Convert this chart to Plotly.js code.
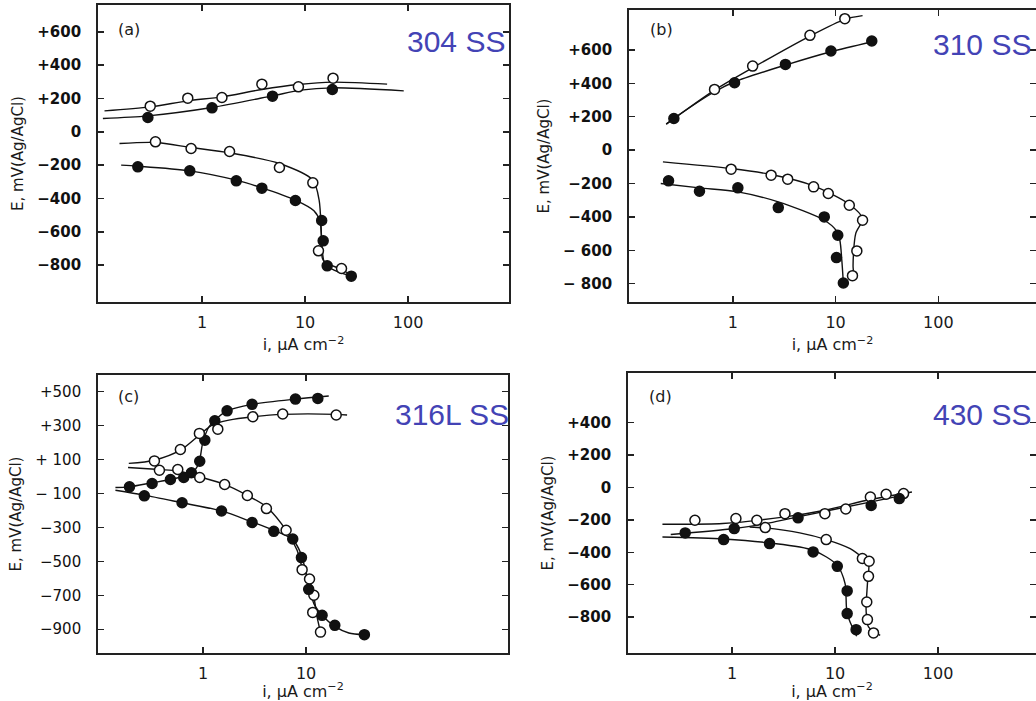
<!DOCTYPE html>
<html>
<head>
<meta charset="utf-8">
<script src="https://cdn.plot.ly/plotly-3.0.1.min.js"></script>
<style>html,body{margin:0;padding:0;background:#fff;}#chart{width:1036px;height:701px;}</style>
</head>
<body>
<div id="chart"></div>
<script>
// ---------- DATA (current density i in µA/cm², potential E in mV vs Ag/AgCl) ----------
// Panel (a) 304 SS
const aOpenAnodicI = [0.314, 0.727, 1.56, 3.81, 8.62, 18.7];
const aOpenAnodicE = [154, 202, 206, 286, 270, 322];
const aOpenAnodicCurveI = [0.113, 0.314, 0.727, 1.56, 3.81, 8.62, 18.7, 62.6];
const aOpenAnodicCurveE = [126, 150, 186, 210, 254, 284, 298, 286];
const aFilledAnodicI = [0.298, 1.25, 4.83, 18.4];
const aFilledAnodicE = [86, 144, 214, 254];
const aFilledAnodicCurveI = [0.109, 0.298, 1.25, 4.83, 9.08, 18.4, 90.8];
const aFilledAnodicCurveE = [80, 96, 146, 216, 250, 264, 246];
const aOpenCathodicI = [0.353, 0.783, 1.85, 5.64, 11.9, 13.5, 22.6];
const aOpenCathodicE = [-60, -100, -118, -214, -306, -714, -820];
const aOpenCathodicCurveI = [0.158, 0.353, 0.783, 1.85, 5.64, 11.9, 13.7, 14.4, 15.0, 22.6, 29.8];
const aOpenCathodicCurveE = [-70, -64, -94, -126, -190, -290, -410, -610, -770, -826, -870];
const aFilledCathodicI = [0.238, 0.760, 2.15, 3.81, 8.06, 14.5, 15.0, 16.4, 28.1];
const aFilledCathodicE = [-210, -234, -294, -338, -412, -532, -654, -804, -866];
const aFilledCathodicCurveI = [0.164, 0.238, 0.760, 2.15, 3.81, 8.06, 12.2, 14.0, 14.5, 15.5, 19.1, 31.0];
const aFilledCathodicCurveE = [-200, -206, -234, -290, -336, -410, -474, -540, -650, -790, -830, -874];

// Panel (b) 310 SS
const bOpenAnodicI = [0.664, 1.56, 5.63, 12.3];
const bOpenAnodicE = [364, 504, 688, 788];
const bOpenAnodicCurveI = [0.225, 0.664, 1.56, 5.63, 12.3, 18.3];
const bOpenAnodicCurveE = [156, 360, 494, 684, 784, 806];
const bFilledAnodicI = [0.267, 1.04, 3.25, 9.01, 22.5];
const bFilledAnodicE = [190, 404, 514, 594, 654];
const bFilledAnodicCurveI = [0.225, 0.267, 0.664, 1.04, 3.25, 9.01, 22.5];
const bFilledAnodicCurveE = [156, 190, 350, 410, 510, 590, 648];
const bOpenCathodicI = [0.963, 2.36, 3.42, 6.11, 8.49, 13.6, 18.3, 16.1, 14.6];
const bOpenCathodicE = [-114, -150, -174, -220, -260, -330, -420, -604, -752];
const bOpenCathodicCurveI = [0.209, 0.963, 2.36, 6.11, 13.6, 18.3, 15.7, 14.8, 15.2];
const bOpenCathodicCurveE = [-70, -110, -146, -214, -324, -410, -500, -700, -760];
const bFilledCathodicI = [0.237, 0.474, 1.12, 2.77, 7.76, 10.5, 10.2, 11.9];
const bFilledCathodicE = [-184, -246, -226, -344, -400, -510, -644, -796];
const bFilledCathodicCurveI = [0.199, 0.474, 1.12, 2.77, 7.76, 10.1, 11.0, 11.5, 11.9];
const bFilledCathodicCurveE = [-200, -226, -250, -310, -420, -480, -540, -660, -796];

// Panel (c) 316L SS
const cFilledAnodicI = [0.193, 0.320, 0.482, 0.649, 0.770, 0.928, 1.04, 1.30, 1.71, 2.99, 7.88, 13.0];
const cFilledAnodicE = [-61, -41, -18, -6, 22, 90, 214, 328, 387, 425, 456, 460];
const cFilledAnodicCurveI = [0.141, 0.193, 0.320, 0.482, 0.770, 0.908, 0.99, 1.14, 1.30, 1.71, 2.99, 7.88, 16.6];
const cFilledAnodicCurveE = [-65, -61, -37, -18, 18, 77, 195, 293, 332, 387, 425, 456, 474];
const cOpenAnodicI = [0.337, 0.602, 0.921, 1.39, 3.04, 5.93, 19.6];
const cOpenAnodicE = [92, 159, 254, 279, 352, 368, 362];
const cOpenAnodicCurveI = [0.190, 0.337, 0.602, 0.921, 1.22, 1.78, 3.04, 5.93, 19.6, 25.0];
const cOpenAnodicCurveE = [77, 96, 155, 244, 303, 332, 352, 366, 366, 362];
const cOpenCathodicI = [0.377, 0.568, 0.928, 1.62, 2.69, 4.12, 6.40, 9.15, 10.8, 11.9, 11.6, 13.8];
const cOpenCathodicE = [37, 41, -6, -47, -112, -189, -317, -549, -604, -700, -801, -917];
const cOpenCathodicCurveI = [0.187, 0.377, 0.568, 0.928, 1.62, 2.69, 4.12, 6.40, 8.18, 9.15, 10.8, 11.9, 12.8, 13.8];
const cOpenCathodicCurveE = [53, 41, 33, -2, -47, -112, -179, -317, -435, -533, -612, -710, -828, -917];
const cFilledCathodicI = [0.269, 0.625, 1.51, 2.99, 4.86, 7.42, 9.01, 10.6, 14.3, 19.0, 36.8];
const cFilledCathodicE = [-114, -155, -203, -271, -323, -368, -478, -665, -818, -877, -932];
const cFilledCathodicCurveI = [0.141, 0.269, 0.625, 1.51, 2.99, 4.86, 7.42, 8.9, 10.2, 11.9, 14.3, 19.0, 26.0, 36.8];
const cFilledCathodicCurveE = [-81, -110, -155, -203, -268, -317, -372, -454, -592, -749, -818, -883, -922, -932];

// Panel (d) 430 SS
const dOpenAnodicI = [0.436, 1.09, 1.74, 3.26, 7.96, 12.7, 22.0, 31.3, 46.2];
const dOpenAnodicE = [-202, -191, -202, -161, -161, -132, -58, -41, -37];
const dOpenAnodicCurveI = [0.211, 0.81, 3.26, 7.96, 22.0, 55.7];
const dOpenAnodicCurveE = [-226, -222, -181, -140, -74, -27];
const dFilledAnodicI = [0.351, 1.05, 4.37, 22.4, 42.0];
const dFilledAnodicE = [-280, -253, -187, -111, -68];
const dFilledAnodicCurveI = [0.254, 1.05, 2.31, 4.37, 22.4, 46.2];
const dFilledAnodicCurveE = [-290, -253, -218, -181, -88, -47];
const dOpenCathodicI = [2.10, 8.20, 18.4, 21.4, 21.1, 20.3, 20.6, 23.6];
const dOpenCathodicE = [-247, -321, -438, -455, -548, -706, -815, -897];
const dOpenCathodicCurveI = [1.48, 2.10, 4.54, 8.20, 14.0, 18.4, 21.1, 20.6, 20.0, 21.1, 27.4];
const dOpenCathodicCurveE = [-243, -249, -280, -321, -377, -432, -469, -593, -757, -860, -912];
const dFilledCathodicI = [0.829, 2.31, 6.12, 10.5, 13.1, 13.1, 16.0];
const dFilledCathodicE = [-321, -346, -397, -486, -638, -778, -877];
const dFilledCathodicCurveI = [0.211, 0.829, 2.31, 6.12, 10.5, 12.5, 13.1, 16.2];
const dFilledCathodicCurveE = [-305, -317, -342, -387, -480, -593, -778, -918];

// Tick labels
const xTickVals = [1, 10, 100];
const xTickText = ['1', '10', '100'];
const xTickValsC = [1, 10];
const xTickTextC = ['1', '10'];
const yTickValsA = [600, 400, 200, 0, -200, -400, -600, -800];
const yTickTextA = ['+600', '+400', '+200', '0', '\u2212200', '\u2212400', '\u2212600', '\u2212800'];
const yTickValsB = [600, 400, 200, 0, -200, -400, -600, -800];
const yTickTextB = ['+600', '+400', '+200', '0', '\u2212200', '\u2212400', '\u2212 600', '\u2212 800'];
const yTickValsC = [500, 300, 100, -100, -300, -500, -700, -900];
const yTickTextC = ['+500', '+300', '+ 100', '\u2212 100', '\u2212300', '\u2212500', '\u2212700', '\u2212900'];
const yTickValsD = [400, 200, 0, -200, -400, -600, -800];
const yTickTextD = ['+400', '+200', '0', '\u2212200', '\u2212400', '\u2212600', '\u2212800'];

const panelLetters = ['(a)', '(b)', '(c)', '(d)'];
const alloyNames = ['304 SS', '310 SS', '316L SS', '430 SS'];
const xTitle = 'i, \u03bcA cm<sup>\u22122</sup>';
const yTitle = 'E, mV(Ag/AgCl)';

// ---------- TRACES ----------
const traces = [];
function curve(x, y, ax) {
  traces.push({x: x, y: y, xaxis: 'x' + ax, yaxis: 'y' + ax, mode: 'lines', type: 'scatter',
    line: {color: '#111', width: 1.4, shape: 'spline', smoothing: 0.8}, hoverinfo: 'skip', showlegend: false});
}
function pts(x, y, ax, open) {
  traces.push({x: x, y: y, xaxis: 'x' + ax, yaxis: 'y' + ax, mode: 'markers', type: 'scatter', showlegend: false,
    marker: {size: 10, color: open ? '#ffffff' : '#111111', line: {color: '#111', width: 1.5}}});
}
// (a)
curve(aOpenAnodicCurveI, aOpenAnodicCurveE, '');
curve(aFilledAnodicCurveI, aFilledAnodicCurveE, '');
curve(aOpenCathodicCurveI, aOpenCathodicCurveE, '');
curve(aFilledCathodicCurveI, aFilledCathodicCurveE, '');
pts(aOpenAnodicI, aOpenAnodicE, '', true);
pts(aFilledAnodicI, aFilledAnodicE, '', false);
pts(aOpenCathodicI, aOpenCathodicE, '', true);
pts(aFilledCathodicI, aFilledCathodicE, '', false);
// (b)
curve(bOpenAnodicCurveI, bOpenAnodicCurveE, '2');
curve(bFilledAnodicCurveI, bFilledAnodicCurveE, '2');
curve(bOpenCathodicCurveI, bOpenCathodicCurveE, '2');
curve(bFilledCathodicCurveI, bFilledCathodicCurveE, '2');
pts(bOpenAnodicI, bOpenAnodicE, '2', true);
pts(bFilledAnodicI, bFilledAnodicE, '2', false);
pts(bOpenCathodicI, bOpenCathodicE, '2', true);
pts(bFilledCathodicI, bFilledCathodicE, '2', false);
// (c)
curve(cFilledAnodicCurveI, cFilledAnodicCurveE, '3');
curve(cOpenAnodicCurveI, cOpenAnodicCurveE, '3');
curve(cOpenCathodicCurveI, cOpenCathodicCurveE, '3');
curve(cFilledCathodicCurveI, cFilledCathodicCurveE, '3');
pts(cFilledAnodicI, cFilledAnodicE, '3', false);
pts(cOpenAnodicI, cOpenAnodicE, '3', true);
pts(cOpenCathodicI, cOpenCathodicE, '3', true);
pts(cFilledCathodicI, cFilledCathodicE, '3', false);
// (d)
curve(dOpenAnodicCurveI, dOpenAnodicCurveE, '4');
curve(dFilledAnodicCurveI, dFilledAnodicCurveE, '4');
curve(dOpenCathodicCurveI, dOpenCathodicCurveE, '4');
curve(dFilledCathodicCurveI, dFilledCathodicCurveE, '4');
pts(dOpenAnodicI, dOpenAnodicE, '4', true);
pts(dFilledAnodicI, dFilledAnodicE, '4', false);
pts(dOpenCathodicI, dOpenCathodicE, '4', true);
pts(dFilledCathodicI, dFilledCathodicE, '4', false);

// ---------- LAYOUT ----------
const W = 1036, H = 701;
function xAx(dom, range, anchor, vals, text) {
  return {type: 'log', domain: dom, range: range, anchor: anchor,
    showline: true, linecolor: '#222', linewidth: 1.8, mirror: 'ticks',
    ticks: 'inside', ticklen: 6, tickwidth: 1.4, tickcolor: '#222',
    tickvals: vals, ticktext: text, showgrid: false, zeroline: false,
    ticklabelstandoff: 5,
    tickfont: {family: 'DejaVu Sans', size: 16, color: '#1a1a1a'},
    title: {text: xTitle, standoff: 8, font: {family: 'DejaVu Sans', size: 16, color: '#1a1a1a'}}};
}
function yAx(dom, range, anchor, vals, text, bold) {
  return {domain: dom, range: range, anchor: anchor,
    showline: true, linecolor: '#222', linewidth: 1.8, mirror: 'ticks',
    ticks: 'inside', ticklen: 6, tickwidth: 1.4, tickcolor: '#222',
    tickvals: vals, ticktext: text, showgrid: false, zeroline: false,
    ticklabelstandoff: 12,
    tickfont: {family: 'DejaVu Sans', size: 15, color: '#111', weight: bold ? 'bold' : 'normal'},
    title: {text: yTitle, standoff: 10, font: {family: 'DejaVu Sans', size: 15, color: '#1a1a1a'}}};
}
const dx = v => v / W;
const dy = v => 1 - v / H;

const layout = {
  width: W, height: H, margin: {l: 0, r: 0, t: 0, b: 0},
  paper_bgcolor: '#ffffff', plot_bgcolor: '#ffffff', showlegend: false,
  xaxis: xAx([dx(98), dx(509)], [-1.01, 2.98], 'y', xTickVals, xTickText),
  yaxis: yAx([dy(302), dy(5)], [-1021, 761], 'x', yTickValsA, yTickTextA, true),
  xaxis2: xAx([dx(629), 1], [-1.01, 2.95], 'y2', xTickVals, xTickText),
  yaxis2: yAx([dy(302), dy(10)], [-910, 840], 'x2', yTickValsB, yTickTextB, true),
  xaxis3: xAx([dx(98), dx(508)], [-1.02, 2.96], 'y3', xTickValsC, xTickTextC),
  yaxis3: yAx([dy(653), dy(375)], [-1040, 598], 'x3', yTickValsC, yTickTextC, false),
  xaxis4: xAx([dx(628), 1], [-1.01, 2.95], 'y4', xTickVals, xTickText),
  yaxis4: yAx([dy(653), dy(373)], [-1021, 707], 'x4', yTickValsD, yTickTextD, true),
  annotations: []
};
const letterPos = [[116, 30], [648, 30], [116, 397], [647, 397]];
const namePos = [[405, 42], [931, 44], [393, 414], [931, 414]];
for (let k = 0; k < 4; k++) {
  layout.annotations.push({xref: 'paper', yref: 'paper', x: dx(letterPos[k][0]), y: dy(letterPos[k][1]),
    xanchor: 'left', yanchor: 'middle', showarrow: false, text: panelLetters[k],
    font: {family: 'DejaVu Sans', size: 16, color: '#1a1a1a'}});
  layout.annotations.push({xref: 'paper', yref: 'paper', x: dx(namePos[k][0]), y: dy(namePos[k][1]),
    xanchor: 'left', yanchor: 'middle', showarrow: false, text: alloyNames[k],
    font: {family: 'Liberation Sans', size: 30, color: '#4343b5'}});
}
Plotly.newPlot('chart', traces, layout, {staticPlot: true, displayModeBar: false});
</script>
</body>
</html>
